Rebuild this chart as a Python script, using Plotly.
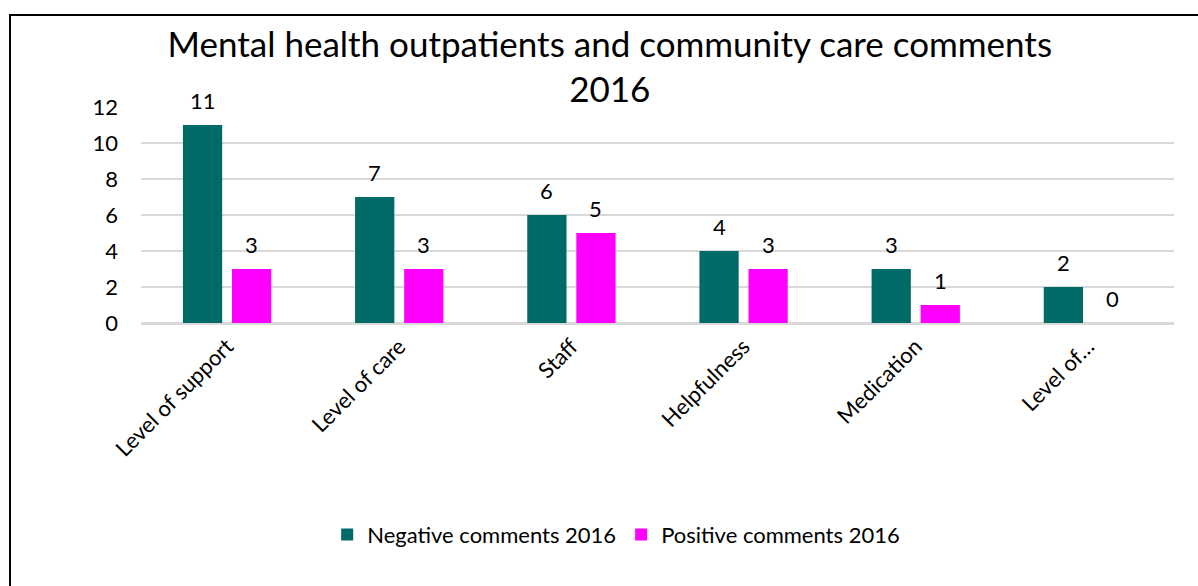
import plotly.graph_objects as go

categories = ["Level of support", "Level of care", "Staff", "Helpfulness", "Medication", "Level of…"]
negative_2016 = [11, 7, 6, 4, 3, 2]
positive_2016 = [3, 3, 5, 3, 1, 0]

NEG_COLOR = "#006A66"
POS_COLOR = "#FF00FF"
FONT = "Lato, 'Open Sans', sans-serif"

fig = go.Figure()
fig.add_trace(go.Bar(name="Negative comments 2016", x=categories, y=negative_2016,
                     marker_color=NEG_COLOR, marker_line_width=0))
fig.add_trace(go.Bar(name="Positive comments 2016", x=categories, y=positive_2016,
                     marker_color=POS_COLOR, marker_line_width=0))

# value labels above each bar, offset to the bar's slot within the group
annotations = []
for series, shift in ((negative_2016, -24.5), (positive_2016, 24.5)):
    for cat, val in zip(categories, series):
        annotations.append(dict(x=cat, y=val, xref="x", yref="y", text=str(val),
                                showarrow=False, xshift=shift, yshift=25,
                                font=dict(size=22, color="#000000", family=FONT)))

fig.update_layout(
    width=1198, height=586,
    margin=dict(l=141, r=24, t=107, b=263),
    paper_bgcolor="white", plot_bgcolor="white",
    barmode="group", bargap=0.43, bargroupgap=0.2,
    title=dict(text="Mental health outpatients and community care comments<br>2016",
               x=0.509, xanchor="center", y=0.903, yanchor="middle",
               font=dict(size=35, color="#000000", family=FONT)),
    font=dict(family=FONT, color="#000000"),
    xaxis=dict(tickangle=-45, tickfont=dict(size=22, color="#000000"),
               showline=True, linecolor="#D9D9D9", linewidth=2,
               ticks="", showgrid=False),
    yaxis=dict(range=[0, 12], dtick=2, tickfont=dict(size=22, color="#000000"),
               showgrid=True, gridcolor="#D9D9D9", gridwidth=2,
               zeroline=True, zerolinecolor="#D9D9D9", zerolinewidth=2,
               ticks="", showline=False, ticklabelstandoff=22),
    legend=dict(orientation="h", x=0.46, xanchor="center", y=-0.98, yanchor="middle",
                font=dict(size=22, color="#000000"), itemwidth=30),
    annotations=annotations,
    shapes=[dict(type="rect", xref="paper", yref="paper",
                 x0=-0.1268, x1=1.03, y0=-1.3, y1=1.426,
                 line=dict(color="#000000", width=2))],
)

fig.write_html("out.html")
